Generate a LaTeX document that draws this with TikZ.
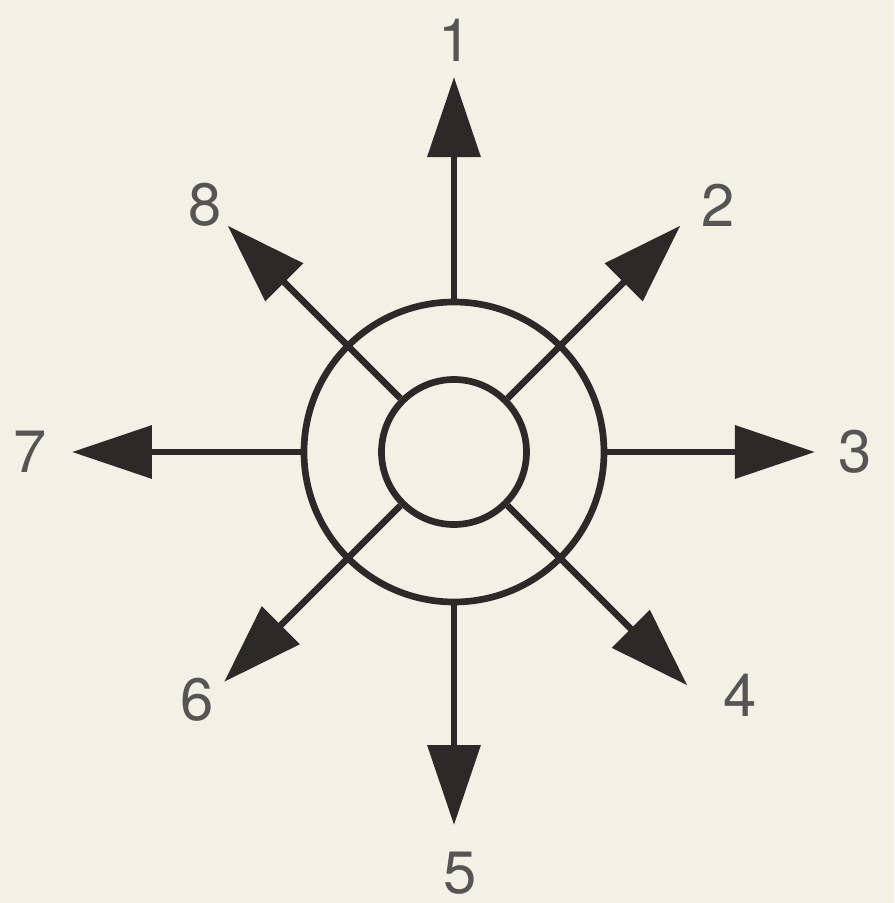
\documentclass[tikz,border=0pt]{standalone}
\usepackage{fontspec}
\setmainfont{TeX Gyre Heros}
\usetikzlibrary{arrows.meta,positioning}
\definecolor{paper}{HTML}{F3F0E6}
\definecolor{ink}{HTML}{2B2A28}

\begin{document}
\begin{tikzpicture}[
        ring/.style={circle, draw=ink, line width=1.9pt, inner sep=0pt},
        ray/.style={draw=ink, line width=1.9pt, -{Triangle[length=8mm, width=5.2mm]}},
        num/.style={text=ink!80, font=\fontsize{17}{17}\selectfont}]

        % paper and picture size
        \fill[paper] (-4.54,-4.51) rectangle (4.40,4.52);
        \useasboundingbox (-4.54,-4.51) rectangle (4.40,4.52);

        \node[ring, minimum size=3.0cm] (outer) at (0,0) {};
        \node[ring, minimum size=1.45cm] (inner) at (0,0) {};

        % arrow tips
        \coordinate (t1) at (90:3.75);
        \coordinate (t2) at (45:3.2);
        \coordinate (t3) at (0:3.61);
        \coordinate (t4) at (-45:3.3);
        \coordinate (t5) at (-90:3.73);
        \coordinate (t6) at (-135:3.25);
        \coordinate (t7) at (180:3.82);
        \coordinate (t8) at (135:3.2);

        \draw[ray] (outer.north) -- (t1);
        \draw[ray] (inner.45) -- (t2);
        \draw[ray] (outer.east) -- (t3);
        \draw[ray] (inner.-45) -- (t4);
        \draw[ray] (outer.south) -- (t5);
        \draw[ray] (inner.-135) -- (t6);
        \draw[ray] (outer.west) -- (t7);
        \draw[ray] (inner.135) -- (t8);

        \node[num] (n1) at (0.01,4.12) {1};
        \node[num] (n2) at (2.64,2.47) {2};
        \node[num] (n3) at (4.01,0) {3};
        \node[num] (n4) at (2.86,-2.43) {4};
        \node[num] (n5) at (0.06,-4.21) {5};
        \node[num] (n6) at (-2.57,-2.48) {6};
        \node[num] (n7) at (-4.24,0) {7};
        \node[num] (n8) at (-2.49,2.47) {8};
    \end{tikzpicture}
\end{document}
